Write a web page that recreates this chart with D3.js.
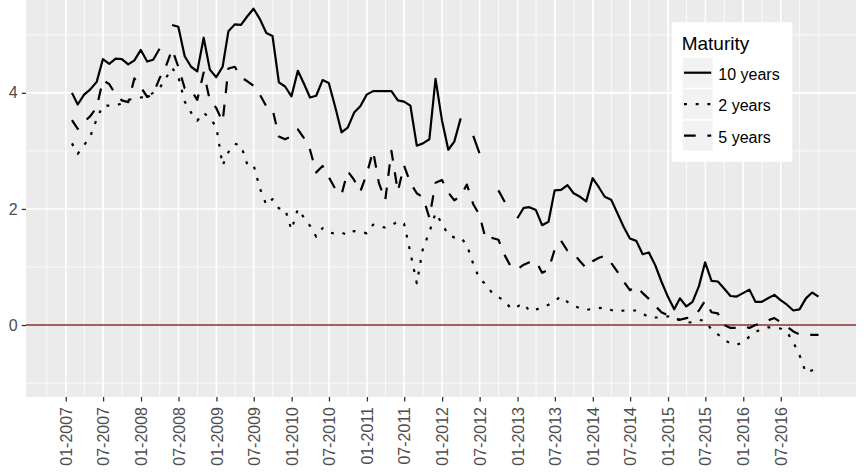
<!DOCTYPE html>
<html>
<head>
<meta charset="utf-8">
<script src="https://cdn.jsdelivr.net/npm/d3@7"></script>
<style>
  html, body { margin: 0; padding: 0; background: #fff; }
  svg { display: block; font-family: "Liberation Sans", Arial, sans-serif; }
</style>
</head>
<body>
<div id="chart"></div>
<script>
// Yields by maturity, monthly (month-end) from 01-2007, null = missing
const seriesNames = ['10 years', '2 years', '5 years'];
const legendTitle = 'Maturity';
const firstMonth = '2007-01';

const tenYear = [
  4.00, 3.80, 3.97, 4.06, 4.19, 4.58, 4.50, 4.59, 4.58, 4.49, 4.56, 4.74,
  4.54, 4.57, 4.76, null, 5.17, 5.14, 4.63, 4.45, 4.37, 4.95, 4.40, 4.27,
  4.45, 5.06, 5.18, 5.17, 5.32, 5.45, 5.27, 5.03, 4.98, 4.18, 4.11, 3.94,
  4.38, 4.17, 3.92, 3.95, 4.22, 4.17, 3.76, 3.32, 3.40, 3.66, 3.77, 3.97,
  4.03, 4.03, 4.03, 4.03, 3.87, 3.85, 3.78, 3.09, 3.13, 3.20, 4.24, 3.53,
  3.02, 3.16, 3.56, null, 3.26, 2.96, null, null, 2.32, 2.12, null, 1.84,
  2.02, 2.03, 1.98, 1.72, 1.78, 2.32, 2.33, 2.41, 2.27, 2.21, 2.13, 2.53,
  2.37, 2.21, 2.16, 1.93, 1.69, 1.49, 1.45, 1.22, 1.25, 1.03, 0.75, 0.49,
  0.27, 0.46, 0.32, 0.40, 0.67, 1.08, 0.76, 0.75, 0.63, 0.50, 0.49, 0.55,
  0.61, 0.40, 0.40, 0.46, 0.52, 0.43, 0.35, 0.25, 0.27, 0.46, 0.56, 0.49
];

const twoYear = [
  3.13, 2.95, 3.10, 3.25, 3.55, 3.78, 3.78, 3.78, 3.82, 3.88, 3.90, 3.92,
  3.94, 4.00, 4.08, 4.25, 4.43, 4.28, 3.85, 3.66, 3.52, 3.66, 3.56, 3.42,
  2.75, 2.98, 3.12, 3.10, 2.76, 2.76, 2.35, 2.07, 2.17, 2.01, 2.00, 1.64,
  2.00, 1.86, 1.71, 1.52, 1.67, 1.60, 1.57, 1.59, 1.55, 1.62, 1.61, 1.58,
  1.73, 1.70, 1.68, 1.71, 1.79, 1.75, 1.25, 0.72, 1.32, 1.60, 1.93, 1.75,
  1.55, 1.51, 1.51, 1.38, 1.05, 0.80, 0.70, 0.55, 0.48, 0.42, 0.28, 0.32,
  0.37, 0.24, 0.27, 0.29, 0.35, 0.42, 0.49, 0.40, 0.33, 0.29, 0.26, 0.28,
  0.29, 0.30, 0.26, 0.23, 0.25, 0.25, 0.25, 0.20, 0.13, 0.13, 0.13, 0.15,
  0.11, 0.09, 0.04, 0.05, 0.09, 0.07, -0.08, -0.16, -0.25, -0.32, -0.34, -0.30,
  -0.20, -0.12, -0.07, -0.04, -0.04, -0.06, -0.12, -0.30, -0.52, -0.82, -0.78, -0.73
];

const fiveYear = [
  3.53, 3.38, 3.50, 3.60, 3.75, 4.22, 4.15, 3.97, 3.87, 3.84, 4.25, 4.10,
  3.93, 3.98, 4.25, 4.45, 4.75, 4.45, 4.08, 4.05, 3.88, 4.35, 3.87, 3.74,
  3.50, 4.42, 4.45, 4.27, 4.20, 4.12, 3.97, 3.77, 3.72, 3.25, 3.20, 3.25,
  3.37, 3.23, 3.02, 2.63, 2.74, 2.55, 2.35, 2.25, 2.65, 2.50, 2.30, 2.60,
  3.00, 2.45, 2.15, 3.00, 2.30, 2.75, 2.45, 2.27, 2.20, 1.85, 2.45, 2.50,
  2.28, 2.15, 2.22, 2.42, 2.08, 1.90, 1.47, 1.50, 1.47, 1.20, 1.00, 0.96,
  1.04, 1.08, 1.10, 0.90, 0.95, 1.30, 1.45, 1.28, 1.23, 1.10, 0.98, 1.10,
  1.16, 1.19, 1.07, 0.92, 0.75, 0.60, 0.67, 0.55, 0.45, 0.33, 0.22, 0.17,
  0.11, 0.09, 0.12, 0.14, 0.25, 0.42, 0.22, 0.20, 0.00, -0.05, -0.05, -0.02,
  -0.05, 0.00, 0.03, 0.08, 0.12, 0.05, -0.03, -0.11, -0.16, -0.17, -0.17, -0.17
];

const tickLabels = [
  '01-2007', '07-2007', '01-2008', '07-2008', '01-2009', '07-2009', '01-2010',
  '07-2010', '01-2011', '07-2011', '01-2012', '07-2012', '01-2013', '07-2013',
  '01-2014', '07-2014', '01-2015', '07-2015', '01-2016', '07-2016'
];
const yTicks = [0, 2, 4];
const yMinor = [-1, 1, 3, 5];

(function() {
    'use strict';

    const width = 864, height = 476;
    const panel = { left: 26, right: 856, top: -10, bottom: 397 };

    const styles = {
        '10 years': { dash: null },
        '2 years': { dash: '2.9,8.8' },
        '5 years': { dash: '11.7,11.7' }
    };

    // month-end dates for every observation
    const start = d3.timeParse('%Y-%m')(firstMonth);
    const dates = tenYear.map((_, i) => new Date(start.getFullYear(), start.getMonth() + i + 1, 0));

    const series = [
        { name: '10 years', values: tenYear },
        { name: '2 years', values: twoYear },
        { name: '5 years', values: fiveYear }
    ].map(s => ({ name: s.name, points: s.values.map((v, i) => ({ date: dates[i], v })) }));

    const parseTick = d3.timeParse('%m-%Y');
    const tickDates = tickLabels.map(parseTick);

    const x = d3.scaleTime()
        .domain([new Date(2006, 5, 22), new Date(2017, 6, 1)])
        .range([panel.left, panel.right]);

    const y = d3.scaleLinear()
        .domain([-1.24, 5.6])
        .range([panel.bottom, 0]);

    const svg = d3.select('#chart').append('svg')
        .attr('width', width)
        .attr('height', height)
        .attr('viewBox', `0 0 ${width} ${height}`);

    svg.append('rect').attr('width', width).attr('height', height).attr('fill', '#fff');

    // Panel background
    svg.append('rect')
        .attr('x', panel.left)
        .attr('y', panel.top)
        .attr('width', panel.right - panel.left)
        .attr('height', panel.bottom - panel.top)
        .attr('fill', '#ebebeb');

    svg.append('clipPath').attr('id', 'panel-clip')
        .append('rect')
        .attr('x', panel.left)
        .attr('y', panel.top)
        .attr('width', panel.right - panel.left)
        .attr('height', panel.bottom - panel.top);

    const grid = svg.append('g').attr('clip-path', 'url(#panel-clip)');

    // Minor vertical grid: quarter starts that are not labelled
    const quarterly = d3.timeMonth.every(3).range(new Date(2006, 9, 1), new Date(2017, 1, 1));
    const majorSet = new Set(tickDates.map(d => +d));
    const minorDates = quarterly.filter(d => !majorSet.has(+d));

    grid.selectAll('.vminor')
        .data(minorDates)
        .enter().append('line')
        .attr('x1', d => x(d)).attr('x2', d => x(d))
        .attr('y1', panel.top).attr('y2', panel.bottom)
        .attr('stroke', '#fff').attr('stroke-width', 0.8);

    grid.selectAll('.hminor')
        .data(yMinor)
        .enter().append('line')
        .attr('x1', panel.left).attr('x2', panel.right)
        .attr('y1', d => y(d)).attr('y2', d => y(d))
        .attr('stroke', '#fff').attr('stroke-width', 0.8);

    grid.selectAll('.vmajor')
        .data(tickDates)
        .enter().append('line')
        .attr('x1', d => x(d)).attr('x2', d => x(d))
        .attr('y1', panel.top).attr('y2', panel.bottom)
        .attr('stroke', '#fff').attr('stroke-width', 1.6);

    grid.selectAll('.hmajor')
        .data(yTicks)
        .enter().append('line')
        .attr('x1', panel.left).attr('x2', panel.right)
        .attr('y1', d => y(d)).attr('y2', d => y(d))
        .attr('stroke', '#fff').attr('stroke-width', 1.6);

    // Zero reference line
    grid.append('line')
        .attr('x1', panel.left).attr('x2', panel.right)
        .attr('y1', y(0)).attr('y2', y(0))
        .attr('stroke', '#8b2a2a').attr('stroke-width', 1.5);

    // Series lines
    const line = d3.line()
        .defined(d => d.v != null)
        .x(d => x(d.date))
        .y(d => y(d.v));

    grid.selectAll('.series')
        .data(series)
        .enter().append('path')
        .attr('class', 'series')
        .attr('d', d => line(d.points))
        .attr('fill', 'none')
        .attr('stroke', '#000')
        .attr('stroke-width', 2.2)
        .attr('stroke-linejoin', 'round')
        .attr('stroke-linecap', 'butt')
        .attr('stroke-dasharray', d => styles[d.name].dash);

    // X axis
    const xAxis = svg.append('g')
        .attr('transform', `translate(0,${panel.bottom})`)
        .call(d3.axisBottom(x)
            .tickValues(tickDates)
            .tickFormat(d3.timeFormat('%m-%Y'))
            .tickSize(4.5)
            .tickSizeOuter(0));
    xAxis.select('.domain').remove();
    xAxis.selectAll('.tick line').attr('stroke', '#333').attr('stroke-width', 1.3);
    xAxis.selectAll('.tick text')
        .attr('transform', 'rotate(-90)')
        .attr('x', -10)
        .attr('y', 0)
        .attr('dy', '0.35em')
        .attr('text-anchor', 'end')
        .attr('fill', '#4d4d4d')
        .style('font-size', '16px')
        .style('font-family', '"Liberation Sans", Arial, sans-serif');

    // Y axis
    const yAxis = svg.append('g')
        .attr('transform', `translate(${panel.left},0)`)
        .call(d3.axisLeft(y)
            .tickValues(yTicks)
            .tickFormat(d3.format('d'))
            .tickSize(4.3)
            .tickPadding(4)
            .tickSizeOuter(0));
    yAxis.select('.domain').remove();
    yAxis.selectAll('.tick line').attr('stroke', '#333').attr('stroke-width', 1.3);
    yAxis.selectAll('.tick text')
        .attr('fill', '#4d4d4d')
        .style('font-size', '16px')
        .style('font-family', '"Liberation Sans", Arial, sans-serif');

    // Legend
    const legend = svg.append('g').attr('transform', 'translate(671.7,22.3)');
    legend.append('rect')
        .attr('width', 120.6).attr('height', 139.4)
        .attr('fill', '#fff');
    legend.append('text')
        .attr('x', 10).attr('y', 27.5)
        .attr('fill', '#000')
        .style('font-size', '19px')
        .text(legendTitle);

    const items = legend.selectAll('.item')
        .data(seriesNames)
        .enter().append('g')
        .attr('transform', (d, i) => `translate(11,${35.4 + i * 31.5})`);
    items.append('rect')
        .attr('width', 30).attr('height', 30)
        .attr('fill', '#f2f2f2');
    items.append('line')
        .attr('x1', 1.3).attr('x2', 28.5)
        .attr('y1', 15).attr('y2', 15)
        .attr('stroke', '#000')
        .attr('stroke-width', 2.2)
        .attr('stroke-dasharray', d => styles[d].dash);
    items.append('text')
        .attr('x', 35.6).attr('y', 16.5)
        .attr('dominant-baseline', 'central')
        .attr('fill', '#000')
        .style('font-size', '16px')
        .text(d => d);
})();
</script>
</body>
</html>
